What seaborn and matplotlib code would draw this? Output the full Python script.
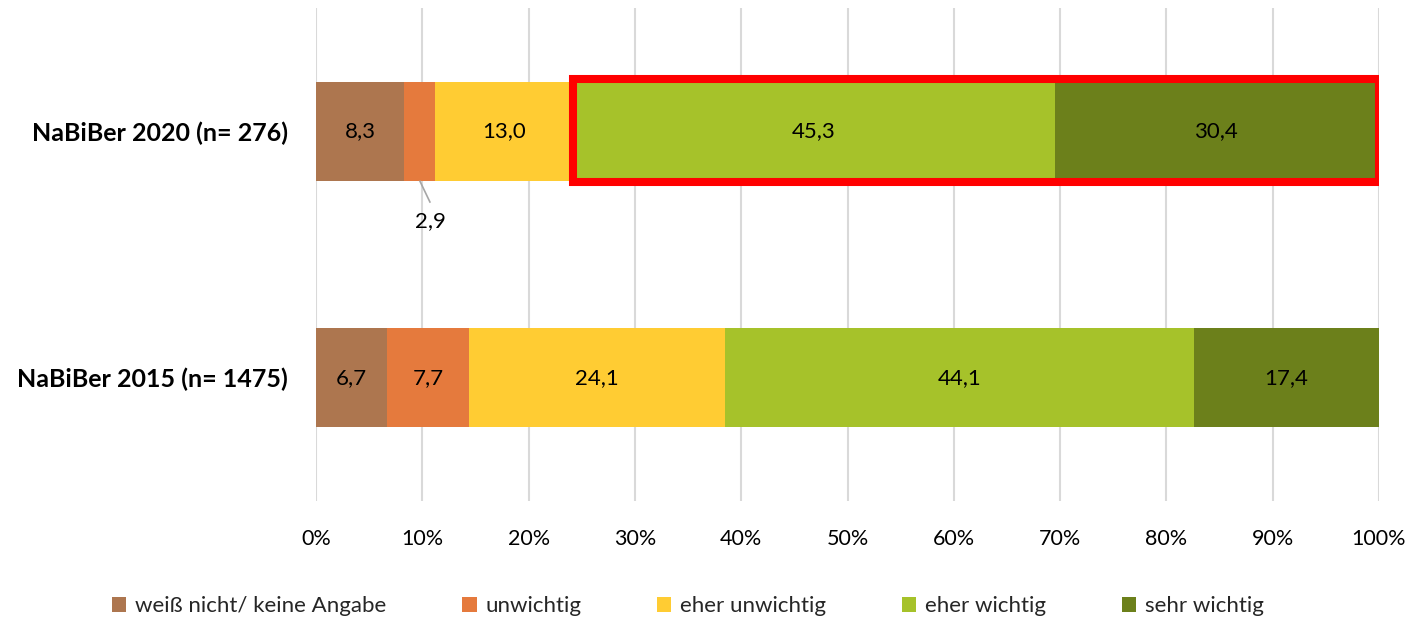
import matplotlib
matplotlib.use("Agg")
import matplotlib.pyplot as plt
from matplotlib.patches import Rectangle, Patch
import seaborn as sns
import pandas as pd
import numpy as np

groups = ["NaBiBer 2020 (n= 276)", "NaBiBer 2015 (n= 1475)"]
answers = ["weiß nicht/ keine Angabe", "unwichtig", "eher unwichtig",
           "eher wichtig", "sehr wichtig"]
shares_2020 = [8.3, 2.9, 13.0, 45.3, 30.4]
shares_2015 = [6.7, 7.7, 24.1, 44.1, 17.4]
colors = ["#AD764F", "#E57A3D", "#FFCC33", "#A6C22A", "#6C801B"]
tick_labels = ["0%", "10%", "20%", "30%", "40%", "50%", "60%", "70%", "80%", "90%", "100%"]

sns.set_theme(style="white")
plt.rcParams["font.family"] = ["Lato", "DejaVu Sans"]

values = np.array([shares_2020, shares_2015])
cum = values.cumsum(axis=1)

fig = plt.figure(figsize=(14.24, 6.2), dpi=100)
ax = fig.add_axes([316 / 1424, 1 - 501 / 620, 1063 / 1424, 493 / 620])

# stacked bars: draw running totals from the widest down
for k in range(len(answers) - 1, -1, -1):
    df = pd.DataFrame({"gruppe": groups, "summe": cum[:, k]})
    sns.barplot(data=df, x="summe", y="gruppe", order=groups, orient="h",
                color=colors[k], width=0.4, saturation=1, ax=ax,
                edgecolor="none", linewidth=0)

# value labels
for i in range(len(groups)):
    for k in range(len(answers)):
        v = values[i, k]
        xc = cum[i, k] - v / 2
        label = f"{v:.1f}".replace(".", ",")
        if v < 5:
            ax.plot([xc, xc + 1.0], [0.2 + i, 0.29 + i], color="#A6A6A6", lw=1.2,
                    solid_capstyle="butt", zorder=4)
            ax.text(xc + 1.05, 0.365 + i, label, ha="center", va="center",
                    fontsize=16, color="#000000")
        else:
            ax.text(xc, i, label, ha="center", va="center", fontsize=16,
                    color="#000000", zorder=5)

# highlight frame around the "wichtig" segments of 2020
start = cum[0, 2]
ax.add_patch(Rectangle((start, -0.212), 100 - start, 0.418, fill=False,
                       edgecolor="#FF0000", linewidth=5.8, zorder=6,
                       joinstyle="miter"))

ax.set_xlim(0, 100)
ax.set_ylim(1.5, -0.5)
ax.set_xticks(np.arange(0, 101, 10))
ax.set_xticklabels(tick_labels, fontsize=15.5)
ax.xaxis.grid(True, color="#D9D9D9", linewidth=1.5)
ax.set_axisbelow(True)
ax.tick_params(axis="x", length=0, pad=20, colors="#000000")
ax.tick_params(axis="y", length=0, pad=20)
for lbl in ax.get_yticklabels():
    lbl.set_fontweight("bold")
    lbl.set_fontsize(18)
    lbl.set_color("#000000")
ax.set_xlabel("")
ax.set_ylabel("")
for s in ax.spines.values():
    s.set_visible(False)

handles = [Patch(facecolor=c, edgecolor="none") for c in colors]
fig.legend(handles, answers, loc="center", bbox_to_anchor=(688 / 1424, 1 - 606 / 620),
           ncol=5, frameon=False, fontsize=16, handlelength=0.65, handleheight=0.65,
           handletextpad=0.4, columnspacing=3.4)

fig.savefig("out.png", dpi=100)
